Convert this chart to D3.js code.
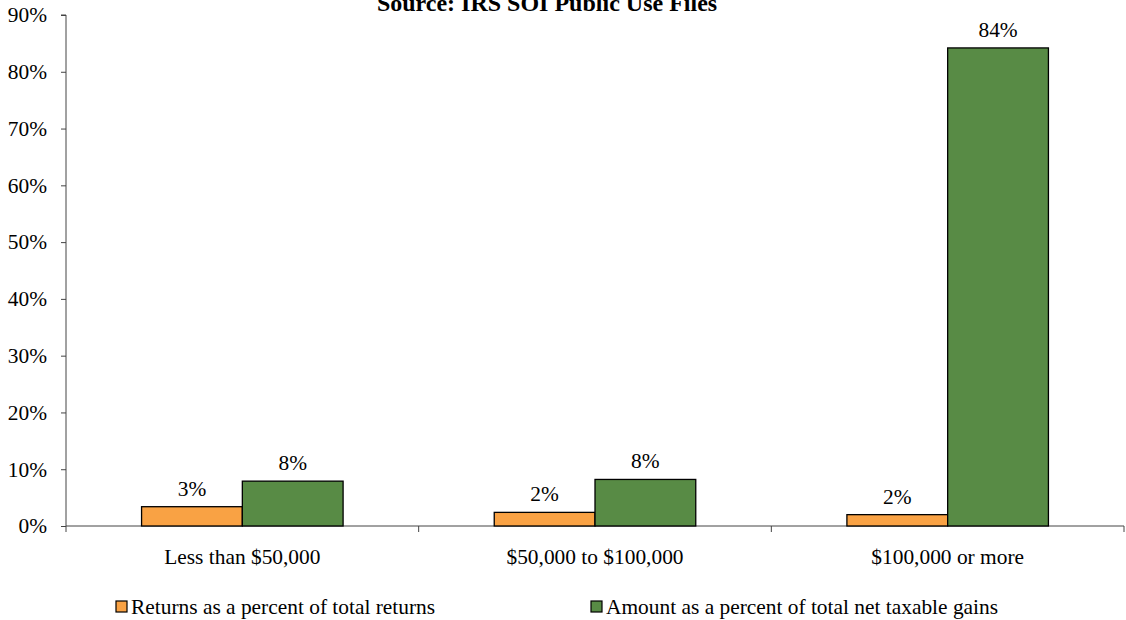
<!DOCTYPE html>
<html><head><meta charset="utf-8">
<script src="https://cdn.jsdelivr.net/npm/d3@7"></script>
<style>body{margin:0;background:#fff}svg{display:block}text{font-family:"Liberation Serif","Times New Roman",serif;fill:#000}</style>
</head><body><svg id="c" width="1126" height="620"></svg>
<script>
const categories = ["Less than $50,000", "$50,000 to $100,000", "$100,000 or more"];
const seriesNames = ["Returns as a percent of total returns", "Amount as a percent of total net taxable gains"];
const returnsPct = [0.034, 0.024, 0.020];
const amountPct = [0.079, 0.082, 0.842];
const yTicks = [0, 0.1, 0.2, 0.3, 0.4, 0.5, 0.6, 0.7, 0.8, 0.9];
const title = "Source: IRS SOI Public Use Files";
const colors = ["#F9A244", "#588B45"];

const svg = d3.select("#c");
const m = {left: 66, right: 1124, top: 15, bottom: 526};
const fs = "21.4px";
const x = d3.scaleBand().domain(categories).range([m.left, m.right]).paddingInner(0).paddingOuter(0);
const x1 = d3.scaleBand().domain([0, 1]).range([0, x.bandwidth()]).paddingOuter(0.75).paddingInner(0);
const y = d3.scaleLinear().domain([0, 0.9]).range([m.bottom, m.top]);

svg.append("text").attr("x", 547).attr("y", 11).attr("text-anchor", "middle")
  .style("font-weight", "bold").style("font-size", "24px").text(title);

// y axis
const ya = svg.append("g").attr("transform", `translate(${m.left},0)`)
  .call(d3.axisLeft(y).tickValues(yTicks).tickFormat(d3.format(".0%")).tickSize(5).tickPadding(14));
ya.select(".domain").attr("stroke", "#444").attr("d", `M-5,${m.top}H0V${m.bottom}`);
ya.selectAll(".tick line").attr("stroke", "#444");
ya.selectAll("text").style("font-size", fs).style("font-family", '"Liberation Serif",serif').attr("fill", "#000");

// x axis
const xa = svg.append("g").attr("transform", `translate(0,${m.bottom})`)
  .call(d3.axisBottom(x).tickSize(0).tickPadding(23));
xa.select(".domain").attr("stroke", "#444").attr("d", `M${m.left},0H${m.right}`);
xa.selectAll("text").style("font-size", fs).style("font-family", '"Liberation Serif",serif').attr("fill", "#000");
const edges = categories.map(c => x(c) + x.bandwidth()).concat([m.left]);
svg.append("g").selectAll("line").data(edges).join("line")
  .attr("x1", d => d).attr("x2", d => d).attr("y1", m.bottom).attr("y2", m.bottom + 6)
  .attr("stroke", "#444");

const series = [returnsPct, amountPct];
series.forEach((vals, si) => {
  const g = svg.append("g");
  g.selectAll("rect").data(vals).join("rect")
    .attr("x", (d, i) => x(categories[i]) + x1(si))
    .attr("y", d => y(d))
    .attr("width", x1.bandwidth())
    .attr("height", d => y(0) - y(d))
    .attr("fill", colors[si]).attr("stroke", "#000").attr("stroke-width", 1.3);
  g.selectAll("text").data(vals).join("text")
    .attr("x", (d, i) => x(categories[i]) + x1(si) + x1.bandwidth() / 2)
    .attr("y", d => y(d) - 11)
    .attr("text-anchor", "middle").style("font-size", fs)
    .text(d => d3.format(".0%")(d));
});

// legend
const legendX = [116, 591];
const lg = svg.append("g").selectAll("g").data(seriesNames).join("g")
  .attr("transform", (d, i) => `translate(${legendX[i]},601)`);
lg.append("rect").attr("width", 11).attr("height", 11)
  .attr("fill", (d, i) => colors[i]).attr("stroke", "#000").attr("stroke-width", 1.2);
lg.append("text").attr("x", 15).attr("y", 13).style("font-size", fs).text(d => d);
</script></body></html>
